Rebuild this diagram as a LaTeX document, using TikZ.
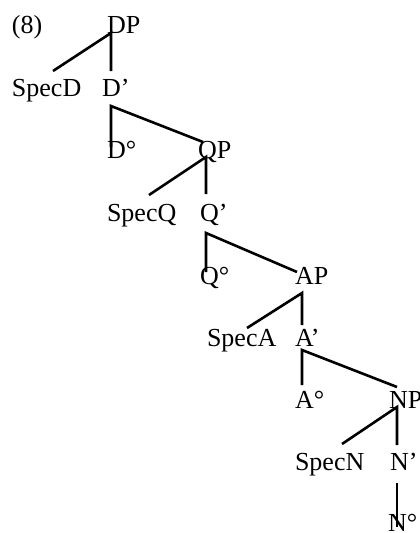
\documentclass[tikz,border=0pt]{standalone}
\usepackage{fontspec}
\setmainfont{Liberation Serif}
\begin{document}
\begin{tikzpicture}[x=1pt,y=-1pt,
  lbl/.style={anchor=base west,inner sep=0pt,outer sep=0pt,font=\fontsize{26}{31}\selectfont},
  branch/.style={line width=2.6pt}]
\useasboundingbox (0,0) rectangle (420,533);
% labels
\node[lbl] (ex) at (12,33) {(8)};
\node[lbl] (DP) at (107,33) {DP};
\node[lbl] (SpecD) at (12,96) {SpecD};
\node[lbl] (Dbar) at (102,96) {D’};
\node[lbl] (D0) at (107,158) {D°};
\node[lbl] (QP) at (198,158) {QP};
\node[lbl] (SpecQ) at (107,221) {SpecQ};
\node[lbl] (Qbar) at (200,221) {Q’};
\node[lbl] (Q0) at (200,284) {Q°};
\node[lbl] (AP) at (295,284) {AP};
\node[lbl] (SpecA) at (207,346) {SpecA};
\node[lbl] (Abar) at (295,346) {A’};
\node[lbl] (A0) at (295,408) {A°};
\node[lbl] (NP) at (389,408) {NP};
\node[lbl] (SpecN) at (295,470) {SpecN};
\node[lbl] (Nbar) at (390,470) {N’};
\node[lbl] (N0) at (388,531) {N°};
% branch ends
\coordinate (dp) at (111,33);
\coordinate (specd) at (53,71);
\coordinate (dbar-top) at (111,71);
\coordinate (dbar) at (111,106);
\coordinate (qp-top) at (203,142);
\coordinate (d0-top) at (111,147);
\coordinate (qp) at (206,157);
\coordinate (specq) at (149,195);
\coordinate (qbar-top) at (206,194);
\coordinate (qbar) at (206,233);
\coordinate (ap-top) at (297,272);
\coordinate (q0-top) at (206,272);
\coordinate (ap) at (302,293);
\coordinate (speca) at (247,328);
\coordinate (abar-top) at (302,325);
\coordinate (abar) at (302,350);
\coordinate (np-top) at (397,387);
\coordinate (a0-top) at (302,385);
\coordinate (np) at (397,407);
\coordinate (specn) at (342,444);
\coordinate (nbar-top) at (397,445);
\coordinate (nbar) at (397,483);
\coordinate (n0-top) at (397,527);
% branches
\draw[branch] (specd) -- (dp) -- (dbar-top);
\draw[branch] (qp-top) -- (dbar) -- (d0-top);
\draw[branch] (specq) -- (qp) -- (qbar-top);
\draw[branch] (ap-top) -- (qbar) -- (q0-top);
\draw[branch] (speca) -- (ap) -- (abar-top);
\draw[branch] (np-top) -- (abar) -- (a0-top);
\draw[branch] (specn) -- (np) -- (nbar-top);
\draw[branch] (nbar) -- (n0-top);
\end{tikzpicture}
\end{document}
